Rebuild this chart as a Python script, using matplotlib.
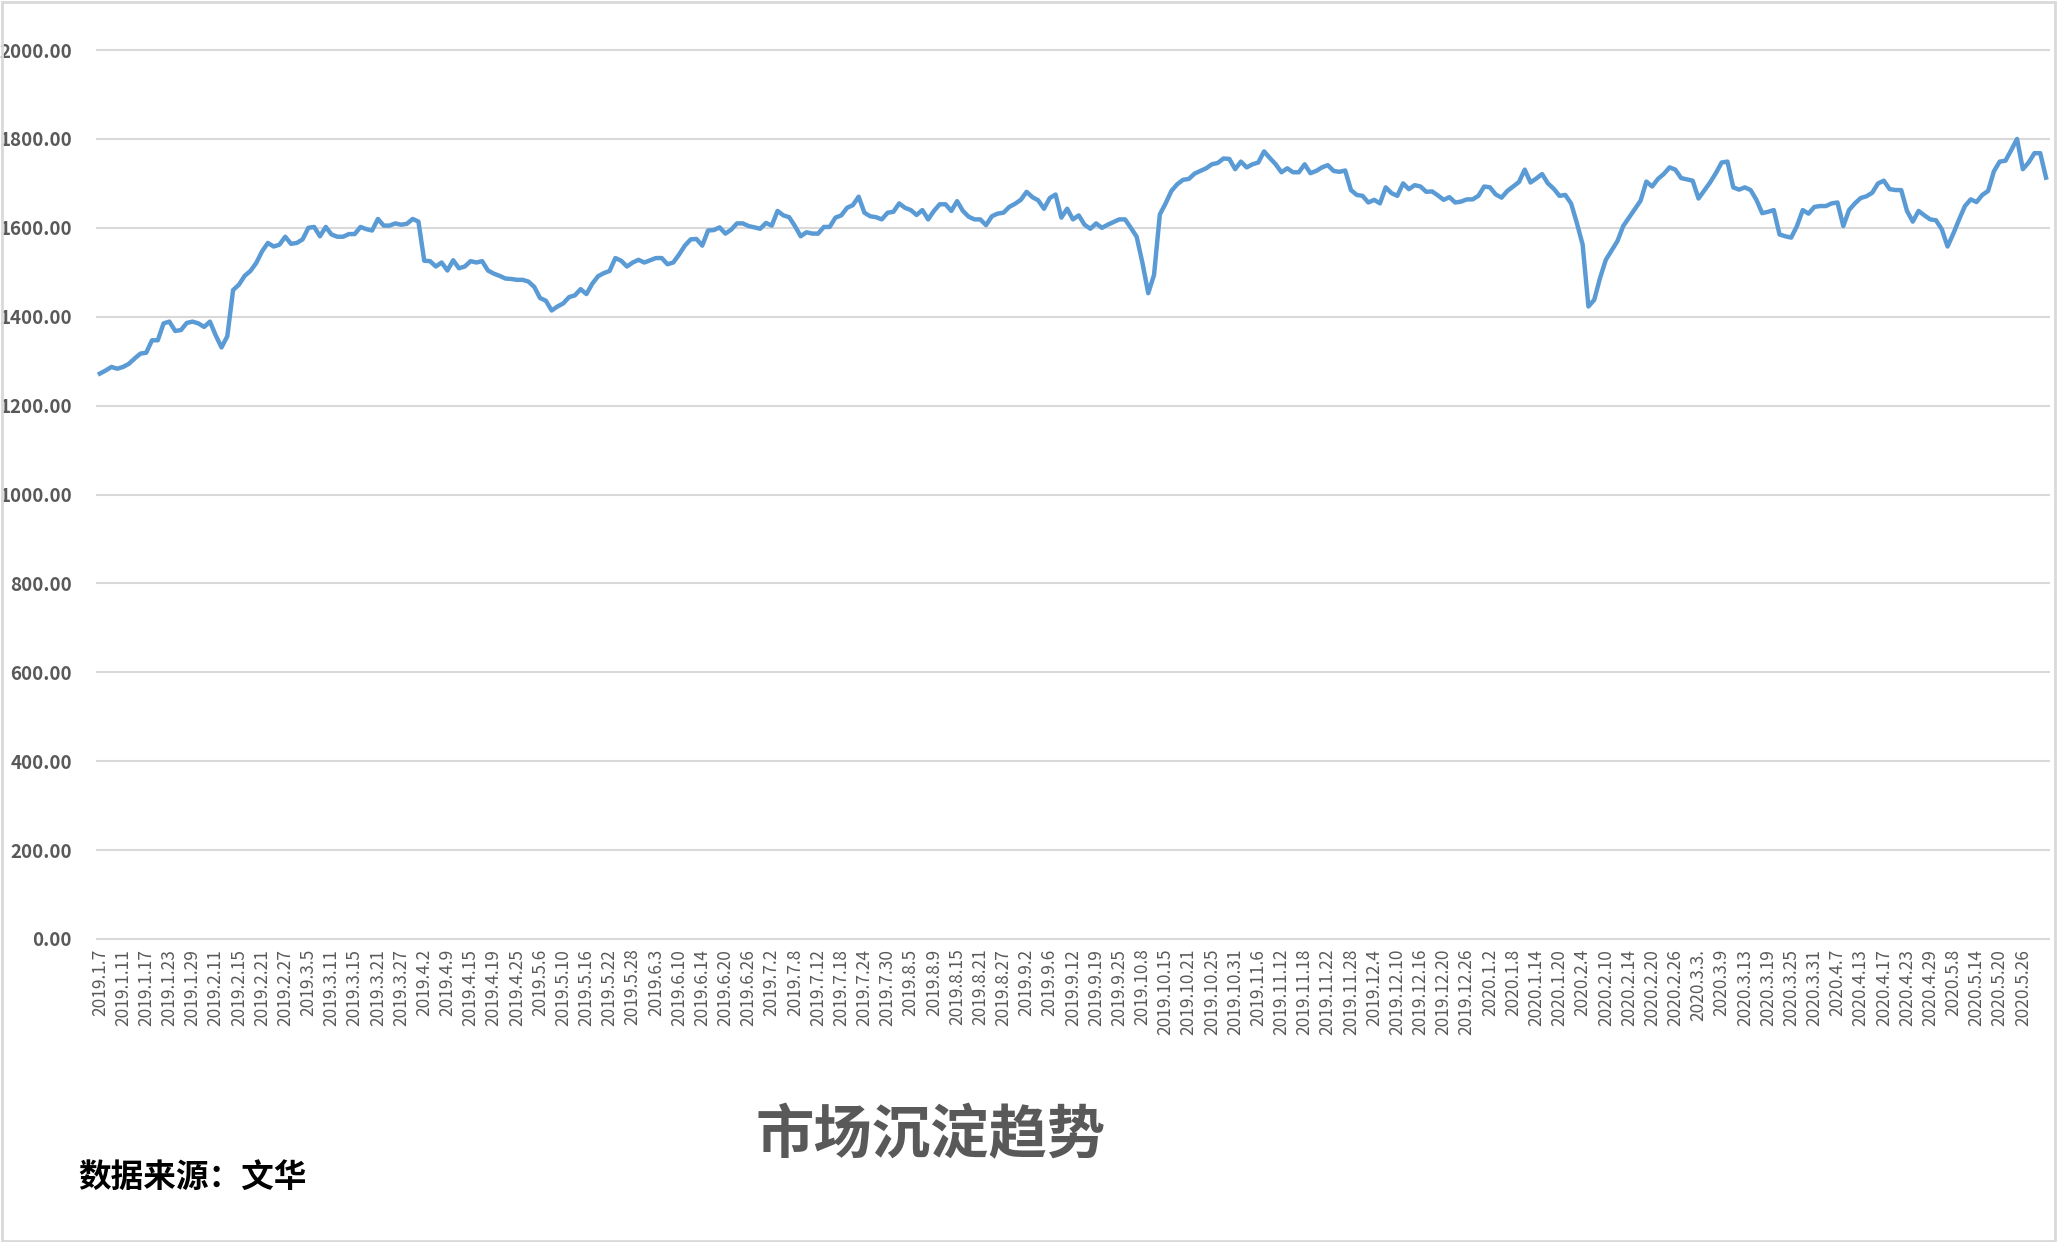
import matplotlib.pyplot as plt
from matplotlib.patches import Rectangle

plt.rcParams['font.family'] = ['Noto Sans CJK SC', 'DejaVu Sans']

# 市场沉淀 (daily, trading days 2019.1.7 - 2020.6.1)
valores = [
    1272, 1279, 1287, 1283, 1287, 1294, 1306, 1317, 1319, 1347,
    1347, 1385, 1389, 1368, 1370, 1386, 1389, 1385, 1377, 1389,
    1358, 1331, 1356, 1460, 1472, 1492, 1503, 1521, 1547, 1566,
    1558, 1562, 1580, 1564, 1566, 1574, 1600, 1602, 1581, 1602,
    1585, 1580, 1580, 1586, 1586, 1602, 1597, 1594, 1620, 1605,
    1605, 1610, 1607, 1609, 1620, 1614, 1526, 1525, 1513, 1522,
    1504, 1527, 1509, 1513, 1525, 1522, 1525, 1504, 1497, 1492,
    1486, 1485, 1483, 1483, 1479, 1467, 1442, 1436, 1414, 1423,
    1430, 1444, 1448, 1462, 1451, 1474, 1491, 1498, 1503, 1532,
    1526, 1513, 1522, 1528, 1522, 1527, 1532, 1532, 1518, 1522,
    1540, 1560, 1574, 1575, 1560, 1594, 1595, 1601, 1587, 1596,
    1610, 1610, 1604, 1601, 1598, 1611, 1605, 1638, 1628, 1624,
    1604, 1581, 1590, 1587, 1587, 1602, 1602, 1623, 1628, 1645,
    1651, 1670, 1634, 1626, 1624, 1619, 1634, 1636, 1655, 1645,
    1640, 1629, 1640, 1619, 1638, 1653, 1653, 1638, 1660, 1638,
    1625, 1619, 1619, 1606, 1626, 1632, 1634, 1647, 1654, 1663,
    1681, 1669, 1662, 1643, 1667, 1675, 1623, 1643, 1619, 1628,
    1607, 1598, 1610, 1600, 1607, 1613, 1619, 1619, 1600, 1580,
    1521, 1453, 1494, 1630, 1655, 1683, 1698, 1708, 1710, 1722,
    1728, 1734, 1743, 1746, 1756, 1755, 1732, 1749, 1736, 1743,
    1747, 1772, 1757, 1743, 1725, 1734, 1725, 1725, 1743, 1723,
    1728, 1736, 1741, 1728, 1726, 1729, 1685, 1674, 1672, 1657,
    1663, 1655, 1691, 1678, 1672, 1700, 1687, 1696, 1693, 1681,
    1682, 1673, 1663, 1669, 1657, 1659, 1664, 1664, 1672, 1693,
    1691, 1675, 1668, 1683, 1693, 1703, 1731, 1702, 1711, 1721,
    1700, 1688, 1672, 1674, 1655, 1611, 1562, 1423, 1438, 1487,
    1528, 1549, 1570, 1604, 1623, 1642, 1661, 1704, 1693, 1710,
    1721, 1736, 1731, 1712, 1709, 1706, 1666, 1684, 1702, 1723,
    1747, 1749, 1691, 1686, 1691, 1685, 1663, 1633, 1636, 1640,
    1585, 1581, 1578, 1604, 1640, 1632, 1647, 1649, 1649, 1655,
    1657, 1604, 1640, 1655, 1667, 1671, 1679, 1700, 1706, 1687,
    1685, 1685, 1638, 1614, 1638, 1628, 1619, 1617, 1597, 1558,
    1587, 1619, 1649, 1664, 1658, 1674, 1683, 1727, 1749, 1751,
    1775, 1800, 1732, 1747, 1768, 1768, 1713,
]

# fechas rotuladas (una cada 4 dias habiles)
fechas = [
    "2019.1.7", "2019.1.11", "2019.1.17", "2019.1.23", "2019.1.29", "2019.2.11",
    "2019.2.15", "2019.2.21", "2019.2.27", "2019.3.5", "2019.3.11", "2019.3.15",
    "2019.3.21", "2019.3.27", "2019.4.2", "2019.4.9", "2019.4.15", "2019.4.19",
    "2019.4.25", "2019.5.6", "2019.5.10", "2019.5.16", "2019.5.22", "2019.5.28",
    "2019.6.3", "2019.6.10", "2019.6.14", "2019.6.20", "2019.6.26", "2019.7.2",
    "2019.7.8", "2019.7.12", "2019.7.18", "2019.7.24", "2019.7.30", "2019.8.5",
    "2019.8.9", "2019.8.15", "2019.8.21", "2019.8.27", "2019.9.2", "2019.9.6",
    "2019.9.12", "2019.9.19", "2019.9.25", "2019.10.8", "2019.10.15", "2019.10.21",
    "2019.10.25", "2019.10.31", "2019.11.6", "2019.11.12", "2019.11.18", "2019.11.22",
    "2019.11.28", "2019.12.4", "2019.12.10", "2019.12.16", "2019.12.20", "2019.12.26",
    "2020.1.2", "2020.1.8", "2020.1.14", "2020.1.20", "2020.2.4", "2020.2.10",
    "2020.2.14", "2020.2.20", "2020.2.26", "2020.3.3.", "2020.3.9", "2020.3.13",
    "2020.3.19", "2020.3.25", "2020.3.31", "2020.4.7", "2020.4.13", "2020.4.17",
    "2020.4.23", "2020.4.29", "2020.5.8", "2020.5.14", "2020.5.20", "2020.5.26",
]
paso = 4

y_ticks = [0, 200, 400, 600, 800, 1000, 1200, 1400, 1600, 1800, 2000]

gris = "#595959"
linea = "#d9d9d9"

fig = plt.figure(figsize=(20.59, 12.42), dpi=100)
ax = fig.add_axes([0.0471, 0.2440, 0.9480, 0.7157])

x = list(range(len(valores)))
ax.plot(x, valores, color="#5b9bd5", lw=3.2, solid_joinstyle="round")

ax.set_xlim(-0.5, len(valores) - 0.5)
ax.set_ylim(0, 2000)
ax.set_yticks(y_ticks)
ax.set_yticklabels(["%.2f" % v for v in y_ticks], fontsize=13.5, fontweight="bold", color=gris)
ax.set_xticks(list(range(0, paso * len(fechas), paso)))
ax.set_xticklabels(fechas, rotation=90, fontsize=12.5, color=gris)
ax.tick_params(axis="y", length=0, pad=18)
ax.tick_params(axis="x", length=0, pad=7)

ax.grid(axis="y", color=linea, lw=1.5)
ax.grid(axis="x", visible=False)
for g in ax.get_ygridlines():
    g.set_clip_on(False)
ax.set_axisbelow(True)
for s in ax.spines.values():
    s.set_visible(False)

fig.text(0.452, 0.085, "市场沉淀趋势", fontsize=42, fontweight="bold", color=gris,
         ha="center", va="center")
fig.text(0.038, 0.052, "数据来源：文华", fontsize=23.5, fontweight="bold", color="black",
         ha="left", va="center")

fig.patches.append(Rectangle((0.001, 0.001), 0.997, 0.997, transform=fig.transFigure,
                             fill=False, edgecolor=linea, lw=2))

plt.savefig("out.png", dpi=100)
